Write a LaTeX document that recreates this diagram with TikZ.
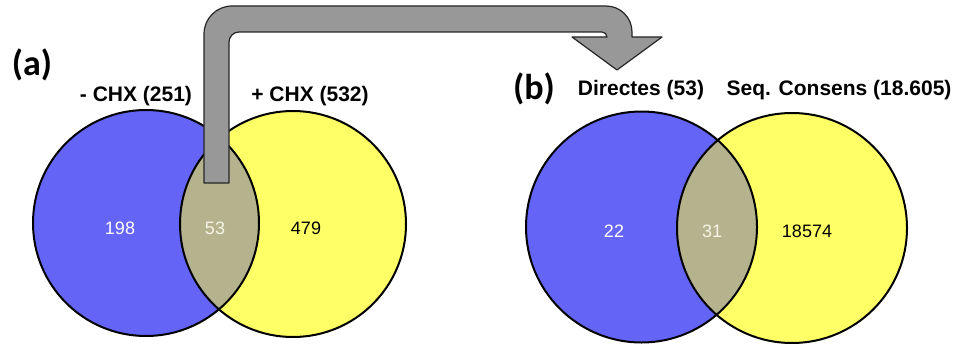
\documentclass[tikz,border=0pt]{standalone}
\usepackage{fontspec}
\setmainfont{Liberation Sans}
\newfontfamily\calib{Carlito}
\definecolor{vblue}{RGB}{100,100,246}
\definecolor{vyel}{RGB}{255,255,102}
\definecolor{volive}{RGB}{181,178,142}
\definecolor{agray}{RGB}{152,152,152}
\definecolor{numlight}{RGB}{245,245,230}
\tikzset{
  ring/.style={draw=black, line width=2pt},
  setlabel/.style={font=\fontsize{21}{24}\selectfont\bfseries, anchor=base, inner sep=0pt},
  panel/.style={font=\calib\fontsize{36}{40}\selectfont\bfseries, inner sep=0pt},
  count/.style={font=\fontsize{18}{20}\selectfont, inner sep=0pt},
  bigarrow/.style={fill=agray, draw=black!85, line width=1.2pt, line join=round}
}
\begin{document}
\begin{tikzpicture}[x=1pt,y=-1pt]
\useasboundingbox (0,0) rectangle (963,345);
% centres
\coordinate (a1) at (146,223);
\coordinate (a2) at (293,224);
\coordinate (b1) at (641.5,227);
\coordinate (b2) at (792,228);
% panel a
\fill[vblue] (a1) circle[radius=113];
\fill[vyel] (a2) circle[radius=113];
\begin{scope}
  \clip (a1) circle[radius=113];
  \fill[volive] (a2) circle[radius=113];
\end{scope}
\draw[ring] (a1) circle[radius=113];
\draw[ring] (a2) circle[radius=113];
% panel b
\fill[vblue] (b1) circle[radius=115.5];
\fill[vyel] (b2) circle[radius=115];
\begin{scope}
  \clip (b1) circle[radius=115.5];
  \fill[volive] (b2) circle[radius=115];
\end{scope}
\draw[ring] (b1) circle[radius=115.5];
\draw[ring] (b2) circle[radius=115];
% counts
\node[count, text=white] (n198) at (120,228) {198};
\node[count, text=numlight] (n53) at (215,228) {53};
\node[count, text=black] (n479) at (306,228) {479};
\node[count, text=white] (n22) at (614,231) {22};
\node[count, text=numlight] (n31) at (712,231) {31};
\node[count, text=black] (n18574) at (807,231) {18574};
% arrow
\coordinate (s1) at (204,183);
\coordinate (s2) at (229,183);
\path[bigarrow] (s1) -- (204,34) .. controls (204,18.5) and (216.5,6) .. (232,6)
  -- (606,6) .. controls (620.4,6) and (632,17.6) .. (632,32)
  -- (632,37) -- (662,37) -- (617,70) coordinate (tip) -- (572,37) -- (607,37)
  .. controls (607,34.2) and (604.8,32) .. (602,32)
  -- (239,32) .. controls (233.5,32) and (229,36.5) .. (229,42)
  -- (s2) -- cycle;
% labels
\node[panel] (pa) at (32,65) {(a)};
\node[panel] (pb) at (534,89) {(b)};
\node[setlabel] (la1) at (136,101) {- CHX (251)};
\node[setlabel] (la2) at (310,101) {+ CHX (532)};
\node[setlabel] (lb1) at (641,95) {Directes (53)};
\node[setlabel] (lb2) at (839,95) {Seq. Consens (18.605)};
\end{tikzpicture}
\end{document}
